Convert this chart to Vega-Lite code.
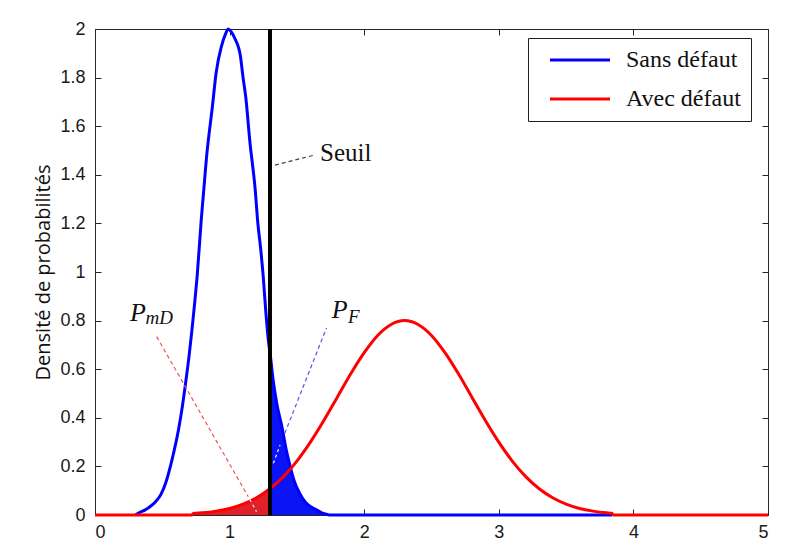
{
  "$schema": "https://vega.github.io/schema/vega-lite/v6.json",
  "autosize": {"type": "none"},
  "padding": {"left": 95, "top": 29, "right": 33, "bottom": 26},
  "width": 673,
  "height": 486,
  "background": "white",
  "config": {
    "view": {"stroke": "#262626", "strokeWidth": 1},
    "axis": {
      "grid": false,
      "domain": false,
      "tickColor": "#262626",
      "tickSize": -6,
      "tickWidth": 1,
      "labelFont": "Liberation Sans",
      "labelFontSize": 18,
      "labelColor": "#1a1a1a",
      "titleFont": "Open Sans",
      "titleFontSize": 20,
      "titleFontWeight": "normal",
      "titleColor": "#111111"
    }
  },
  "datasets": {
    "curves": [
      {"serie": "Sans défaut", "x": 0.3, "y": 0},
      {"serie": "Sans défaut", "x": 0.33, "y": 0.01},
      {"serie": "Sans défaut", "x": 0.37, "y": 0.02},
      {"serie": "Sans défaut", "x": 0.41, "y": 0.035},
      {"serie": "Sans défaut", "x": 0.45, "y": 0.055},
      {"serie": "Sans défaut", "x": 0.49, "y": 0.085},
      {"serie": "Sans défaut", "x": 0.53, "y": 0.14},
      {"serie": "Sans défaut", "x": 0.56, "y": 0.2},
      {"serie": "Sans défaut", "x": 0.59, "y": 0.27},
      {"serie": "Sans défaut", "x": 0.62, "y": 0.35},
      {"serie": "Sans défaut", "x": 0.65, "y": 0.45},
      {"serie": "Sans défaut", "x": 0.67, "y": 0.53},
      {"serie": "Sans défaut", "x": 0.7, "y": 0.66},
      {"serie": "Sans défaut", "x": 0.72, "y": 0.76},
      {"serie": "Sans défaut", "x": 0.74, "y": 0.87},
      {"serie": "Sans défaut", "x": 0.76, "y": 0.99},
      {"serie": "Sans défaut", "x": 0.79, "y": 1.22},
      {"serie": "Sans défaut", "x": 0.81, "y": 1.35},
      {"serie": "Sans défaut", "x": 0.83, "y": 1.48},
      {"serie": "Sans défaut", "x": 0.85, "y": 1.58},
      {"serie": "Sans défaut", "x": 0.87, "y": 1.67},
      {"serie": "Sans défaut", "x": 0.9, "y": 1.82},
      {"serie": "Sans défaut", "x": 0.94, "y": 1.93},
      {"serie": "Sans défaut", "x": 0.97, "y": 1.98},
      {"serie": "Sans défaut", "x": 0.99, "y": 2.0},
      {"serie": "Sans défaut", "x": 1.01, "y": 1.99},
      {"serie": "Sans défaut", "x": 1.04, "y": 1.96},
      {"serie": "Sans défaut", "x": 1.08, "y": 1.89},
      {"serie": "Sans défaut", "x": 1.1, "y": 1.8},
      {"serie": "Sans défaut", "x": 1.12, "y": 1.72},
      {"serie": "Sans défaut", "x": 1.15, "y": 1.54},
      {"serie": "Sans défaut", "x": 1.19, "y": 1.34},
      {"serie": "Sans défaut", "x": 1.21, "y": 1.2},
      {"serie": "Sans défaut", "x": 1.23, "y": 1.1},
      {"serie": "Sans défaut", "x": 1.25, "y": 0.98},
      {"serie": "Sans défaut", "x": 1.27, "y": 0.83},
      {"serie": "Sans défaut", "x": 1.29, "y": 0.71},
      {"serie": "Sans défaut", "x": 1.3, "y": 0.67},
      {"serie": "Sans défaut", "x": 1.32, "y": 0.57},
      {"serie": "Sans défaut", "x": 1.35, "y": 0.46},
      {"serie": "Sans défaut", "x": 1.39, "y": 0.36},
      {"serie": "Sans défaut", "x": 1.42, "y": 0.27},
      {"serie": "Sans défaut", "x": 1.45, "y": 0.2},
      {"serie": "Sans défaut", "x": 1.48, "y": 0.14},
      {"serie": "Sans défaut", "x": 1.52, "y": 0.09},
      {"serie": "Sans défaut", "x": 1.56, "y": 0.055},
      {"serie": "Sans défaut", "x": 1.6, "y": 0.035},
      {"serie": "Sans défaut", "x": 1.65, "y": 0.02},
      {"serie": "Sans défaut", "x": 1.68, "y": 0.01},
      {"serie": "Sans défaut", "x": 1.72, "y": 0.003},
      {"serie": "Sans défaut", "x": 1.75, "y": 0},
      {"serie": "Sans défaut", "x": 2.7, "y": 0},
      {"serie": "Sans défaut", "x": 3.84, "y": 0},
      {"serie": "Avec défaut", "x": 0, "y": 0},
      {"serie": "Avec défaut", "x": 0.72, "y": 0},
      {"serie": "Avec défaut", "x": 0.73, "y": 0.006},
      {"serie": "Avec défaut", "x": 0.8, "y": 0.009},
      {"serie": "Avec défaut", "x": 0.9, "y": 0.016},
      {"serie": "Avec défaut", "x": 1.0, "y": 0.027},
      {"serie": "Avec défaut", "x": 1.1, "y": 0.045},
      {"serie": "Avec défaut", "x": 1.2, "y": 0.071},
      {"serie": "Avec défaut", "x": 1.3, "y": 0.108},
      {"serie": "Avec défaut", "x": 1.4, "y": 0.158},
      {"serie": "Avec défaut", "x": 1.5, "y": 0.222},
      {"serie": "Avec défaut", "x": 1.6, "y": 0.3},
      {"serie": "Avec défaut", "x": 1.7, "y": 0.389},
      {"serie": "Avec défaut", "x": 1.8, "y": 0.485},
      {"serie": "Avec défaut", "x": 1.9, "y": 0.581},
      {"serie": "Avec défaut", "x": 2.0, "y": 0.668},
      {"serie": "Avec défaut", "x": 2.1, "y": 0.739},
      {"serie": "Avec défaut", "x": 2.2, "y": 0.784},
      {"serie": "Avec défaut", "x": 2.3, "y": 0.8},
      {"serie": "Avec défaut", "x": 2.4, "y": 0.784},
      {"serie": "Avec défaut", "x": 2.5, "y": 0.739},
      {"serie": "Avec défaut", "x": 2.6, "y": 0.668},
      {"serie": "Avec défaut", "x": 2.7, "y": 0.581},
      {"serie": "Avec défaut", "x": 2.8, "y": 0.485},
      {"serie": "Avec défaut", "x": 2.9, "y": 0.389},
      {"serie": "Avec défaut", "x": 3.0, "y": 0.3},
      {"serie": "Avec défaut", "x": 3.1, "y": 0.222},
      {"serie": "Avec défaut", "x": 3.2, "y": 0.158},
      {"serie": "Avec défaut", "x": 3.3, "y": 0.108},
      {"serie": "Avec défaut", "x": 3.4, "y": 0.071},
      {"serie": "Avec défaut", "x": 3.5, "y": 0.045},
      {"serie": "Avec défaut", "x": 3.6, "y": 0.027},
      {"serie": "Avec défaut", "x": 3.7, "y": 0.016},
      {"serie": "Avec défaut", "x": 3.8, "y": 0.009},
      {"serie": "Avec défaut", "x": 3.84, "y": 0.007},
      {"serie": "Avec défaut", "x": 3.85, "y": 0},
      {"serie": "Avec défaut", "x": 5, "y": 0}
    ],
    "fills": [
      {"zone": "PmD", "x": 0.73, "y": 0.006},
      {"zone": "PmD", "x": 0.8, "y": 0.009},
      {"zone": "PmD", "x": 0.9, "y": 0.016},
      {"zone": "PmD", "x": 1.0, "y": 0.027},
      {"zone": "PmD", "x": 1.1, "y": 0.045},
      {"zone": "PmD", "x": 1.2, "y": 0.071},
      {"zone": "PmD", "x": 1.3, "y": 0.108},
      {"zone": "PF", "x": 1.3, "y": 0.67},
      {"zone": "PF", "x": 1.32, "y": 0.57},
      {"zone": "PF", "x": 1.35, "y": 0.46},
      {"zone": "PF", "x": 1.39, "y": 0.36},
      {"zone": "PF", "x": 1.42, "y": 0.27},
      {"zone": "PF", "x": 1.45, "y": 0.2},
      {"zone": "PF", "x": 1.48, "y": 0.14},
      {"zone": "PF", "x": 1.52, "y": 0.09},
      {"zone": "PF", "x": 1.56, "y": 0.055},
      {"zone": "PF", "x": 1.6, "y": 0.035},
      {"zone": "PF", "x": 1.65, "y": 0.02},
      {"zone": "PF", "x": 1.68, "y": 0.01},
      {"zone": "PF", "x": 1.72, "y": 0.003},
      {"zone": "PF", "x": 1.75, "y": 0}
    ],
    "annot": [
      {"seg": "seuil", "x": 1.337, "y": 1.44},
      {"seg": "seuil", "x": 1.622, "y": 1.48},
      {"seg": "pmd", "x": 0.458, "y": 0.734},
      {"seg": "pmd", "x": 1.139, "y": 0.075},
      {"seg": "pmdw", "x": 1.15, "y": 0.064},
      {"seg": "pmdw", "x": 1.2, "y": 0.014},
      {"seg": "pf", "x": 1.72, "y": 0.77},
      {"seg": "pf", "x": 1.41, "y": 0.336},
      {"seg": "pfw", "x": 1.375, "y": 0.288},
      {"seg": "pfw", "x": 1.325, "y": 0.213}
    ],
    "seuil": [{"x": 1.3}],
    "labels": [
      {"kind": "seuil", "txt": "Seuil", "x": 1.672, "y": 1.455},
      {"kind": "main", "txt": "P", "x": 0.26, "y": 0.8},
      {"kind": "sub", "txt": "mD", "x": 0.375, "y": 0.785},
      {"kind": "main", "txt": "P", "x": 1.758, "y": 0.81},
      {"kind": "sub", "txt": "F", "x": 1.88, "y": 0.79}
    ]
  },
  "resolve": {"axis": {"x": "independent", "y": "independent"}},
  "layer": [
    {
      "data": {"name": "fills"},
      "transform": [{"filter": "datum.zone === 'PmD'"}],
      "mark": {"type": "area", "color": "#e0202a", "opacity": 1, "interpolate": "monotone"},
      "encoding": {
        "x": {"field": "x", "type": "quantitative", "scale": {"domain": [0, 5], "nice": false}, "axis": {"orient": "bottom", "values": [0, 1, 2, 3, 4, 5], "labelPadding": 14, "title": null, "format": "~g"}},
        "y": {"field": "y", "type": "quantitative", "scale": {"domain": [0, 2], "nice": false}, "axis": {"orient": "left", "values": [0, 0.2, 0.4, 0.6, 0.8, 1, 1.2, 1.4, 1.6, 1.8, 2], "format": "~g", "labelPadding": 16, "title": "Densité de probabilités", "titlePadding": 6}}
      }
    },
    {
      "data": {"name": "fills"},
      "transform": [{"filter": "datum.zone === 'PF'"}],
      "mark": {"type": "area", "color": "#0a14f5", "opacity": 1, "interpolate": "monotone"},
      "encoding": {
        "x": {"field": "x", "type": "quantitative", "axis": {"orient": "top", "values": [0, 1, 2, 3, 4, 5], "labels": false, "title": null}},
        "y": {"field": "y", "type": "quantitative", "axis": {"orient": "right", "values": [0, 0.2, 0.4, 0.6, 0.8, 1, 1.2, 1.4, 1.6, 1.8, 2], "labels": false, "title": null}}
      }
    },
    {
      "data": {"name": "curves"},
      "transform": [{"filter": "datum.serie === 'Sans défaut'"}],
      "mark": {"type": "line", "strokeWidth": 3, "interpolate": "monotone"},
      "encoding": {
        "x": {"field": "x", "type": "quantitative", "axis": null},
        "y": {"field": "y", "type": "quantitative", "axis": null},
        "stroke": {
          "field": "serie", "type": "nominal",
          "scale": {"domain": ["Sans défaut", "Avec défaut"], "range": ["#0000ff", "#ff0000"]},
          "legend": {
            "title": null,
            "orient": "none",
            "legendX": 433,
            "legendY": 9,
            "direction": "vertical",
            "symbolType": "M0,0H6",
            "symbolSize": 400,
            "symbolStrokeWidth": 3,
            "labelOffset": 64,
            "labelFont": "Liberation Serif",
            "labelFontSize": 24,
            "labelColor": "#111111",
            "rowPadding": 15,
            "padding": 10,
            "strokeColor": "#222222",
            "fillColor": "white",
            "labelLimit": 300
          }
        }
      }
    },
    {
      "data": {"name": "curves"},
      "transform": [{"filter": "datum.serie === 'Avec défaut'"}],
      "mark": {"type": "line", "strokeWidth": 3, "interpolate": "monotone"},
      "encoding": {
        "x": {"field": "x", "type": "quantitative", "axis": null},
        "y": {"field": "y", "type": "quantitative", "axis": null},
        "stroke": {"field": "serie", "type": "nominal"}
      }
    },
    {
      "data": {"name": "annot"},
      "transform": [{"filter": "datum.seg === 'seuil'"}],
      "mark": {"type": "line", "color": "#444444", "strokeWidth": 1.2, "strokeDash": [4, 3]},
      "encoding": {
        "x": {"field": "x", "type": "quantitative", "axis": null},
        "y": {"field": "y", "type": "quantitative", "axis": null}
      }
    },
    {
      "data": {"name": "annot"},
      "transform": [{"filter": "datum.seg === 'pmd'"}],
      "mark": {"type": "line", "color": "#ee5555", "strokeWidth": 1.2, "strokeDash": [4, 3]},
      "encoding": {
        "x": {"field": "x", "type": "quantitative", "axis": null},
        "y": {"field": "y", "type": "quantitative", "axis": null}
      }
    },
    {
      "data": {"name": "annot"},
      "transform": [{"filter": "datum.seg === 'pf'"}],
      "mark": {"type": "line", "color": "#5555ee", "strokeWidth": 1.2, "strokeDash": [4, 3]},
      "encoding": {
        "x": {"field": "x", "type": "quantitative", "axis": null},
        "y": {"field": "y", "type": "quantitative", "axis": null}
      }
    },
    {
      "data": {"name": "annot"},
      "transform": [{"filter": "datum.seg === 'pmdw' || datum.seg === 'pfw'"}],
      "mark": {"type": "line", "color": "#f4f4ff", "strokeWidth": 1.2, "strokeDash": [3, 3]},
      "encoding": {
        "x": {"field": "x", "type": "quantitative", "axis": null},
        "y": {"field": "y", "type": "quantitative", "axis": null},
        "detail": {"field": "seg"}
      }
    },
    {
      "data": {"name": "seuil"},
      "mark": {"type": "rule", "color": "#000000", "strokeWidth": 4},
      "encoding": {
        "x": {"field": "x", "type": "quantitative", "axis": null}
      }
    },
    {
      "data": {"name": "labels"},
      "transform": [{"filter": "datum.kind === 'seuil'"}],
      "mark": {"type": "text", "font": "Liberation Serif", "fontSize": 25, "align": "left", "baseline": "alphabetic", "color": "#111111"},
      "encoding": {
        "x": {"field": "x", "type": "quantitative", "axis": null},
        "y": {"field": "y", "type": "quantitative", "axis": null},
        "text": {"field": "txt"}
      }
    },
    {
      "data": {"name": "labels"},
      "transform": [{"filter": "datum.kind === 'main'"}],
      "mark": {"type": "text", "font": "Liberation Serif", "fontStyle": "italic", "fontSize": 26, "align": "left", "baseline": "alphabetic", "color": "#111111"},
      "encoding": {
        "x": {"field": "x", "type": "quantitative", "axis": null},
        "y": {"field": "y", "type": "quantitative", "axis": null},
        "text": {"field": "txt"}
      }
    },
    {
      "data": {"name": "labels"},
      "transform": [{"filter": "datum.kind === 'sub'"}],
      "mark": {"type": "text", "font": "Liberation Serif", "fontStyle": "italic", "fontSize": 19, "align": "left", "baseline": "alphabetic", "color": "#111111"},
      "encoding": {
        "x": {"field": "x", "type": "quantitative", "axis": null},
        "y": {"field": "y", "type": "quantitative", "axis": null},
        "text": {"field": "txt"}
      }
    }
  ]
}
